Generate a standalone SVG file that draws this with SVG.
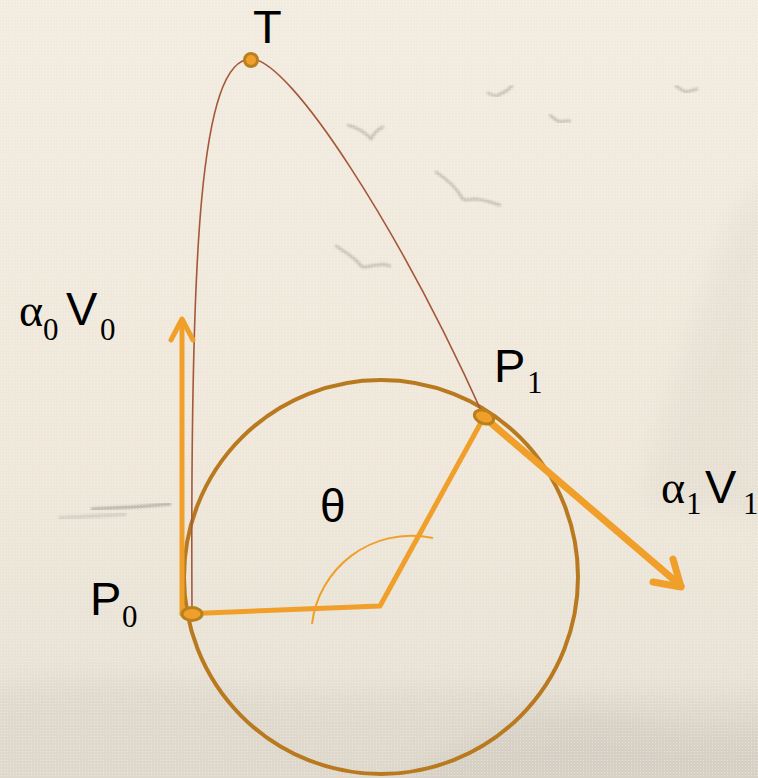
<svg xmlns="http://www.w3.org/2000/svg" width="758" height="778" viewBox="0 0 758 778">
<defs>
<linearGradient id="bg" x1="0" y1="0" x2="0" y2="1">
<stop offset="0" stop-color="#F2EBDF"/>
<stop offset="0.6" stop-color="#EEE7DA"/>
<stop offset="1" stop-color="#E6E0D4"/>
</linearGradient>
<pattern id="dots" width="3" height="3" patternUnits="userSpaceOnUse">
<rect x="1" y="1" width="1" height="1" fill="#FFFFFF" opacity="0.35"/>
</pattern>
<filter id="blur" x="-20%" y="-20%" width="140%" height="140%"><feGaussianBlur stdDeviation="12"/></filter>
<filter id="sblur"><feGaussianBlur stdDeviation="1"/></filter>
<style>
.sans{font-family:"Liberation Sans",Arial,sans-serif;fill:#000}
.serif{font-family:"Liberation Serif","Times New Roman",serif;fill:#000}
.big{font-size:47px}
.sub{font-size:31px}
.alpha{font-size:46px}
.vec{fill:none;stroke:#F0A02A;stroke-linecap:round;stroke-linejoin:round}
.bird{fill:none;stroke:#77736D;stroke-width:2.5;stroke-linecap:round;opacity:0.4;filter:url(#sblur)}
.mark{fill:#F0A02A;stroke:#B8801E;stroke-width:3}
</style>
</defs>
<g id="background">
<rect width="758" height="778" fill="url(#bg)"/>
<path d="M640,500 C660,420 690,330 720,250 C735,210 750,190 770,180 L770,520 Z" fill="#D8D2C6" opacity="0.3" filter="url(#blur)"/>
<path d="M-20,690 C120,660 260,700 380,690 C520,680 640,700 780,690 L780,800 L-20,800 Z" fill="#D6D0C4" opacity="0.45" filter="url(#blur)"/>
<path d="M380,800 C470,720 560,700 640,720 C700,735 740,730 780,725 L780,800 Z" fill="#CFC9BD" opacity="0.5" filter="url(#blur)"/>
<path class="bird" d="M348,125 C358,128 366,133 371,139 C374,133 378,129 383,127"/>
<path class="bird" d="M488,93 C494,96 498,97 500,94 C506,92 510,88 512,86"/>
<path class="bird" d="M550,115 C555,119 557,121 560,122 C563,121 566,121 570,121"/>
<path class="bird" d="M676,86 C680,89 683,91 686,92 C690,91 694,90 697,89"/>
<path class="bird" d="M436,172 C448,180 456,188 461,196 C462,201 466,200 474,199 C483,199 493,203 500,205"/>
<path class="bird" d="M336,246 C345,252 356,258 361,266 C365,269 370,265 378,265 C383,264 387,265 390,266"/>
<path class="bird" d="M92,509 C120,508 150,506 170,504" style="opacity:0.55"/>
<path class="bird" d="M60,518 C85,517 105,515 125,514" style="opacity:0.2;stroke-width:4"/>
<rect width="758" height="778" fill="url(#dots)"/>
</g>
<g id="connectors">
<circle id="circle" cx="381" cy="577" r="197" fill="none" stroke="#B97A1F" stroke-width="4"/>
<path id="curve" d="M192,612 C190,250 200,59 251,59 C290,59 400,230 484,417" fill="none" stroke="#A5573A" stroke-width="1.6"/>
<path id="angle-arc" d="M312,624 C318,570 370,525 433,538" fill="none" stroke="#F0A02A" stroke-width="2"/>
<path id="radii" class="vec" d="M182,614 L380,606 L484,417" stroke-width="5"/>
<g id="vector-a0v0">
<path class="vec" d="M182,614 L182,320" stroke-width="5"/>
<path class="vec" d="M171,340 L182,319 L193,340" stroke-width="5"/>
</g>
<g id="vector-a1v1">
<path class="vec" d="M484,417 L681,586" stroke-width="7"/>
<path class="vec" d="M653,582 L681,587 L673,559" stroke-width="7"/>
</g>
</g>
<g id="node-T">
<circle class="mark" cx="251" cy="60" r="6.5"/>
<text class="sans big" x="253" y="43">T</text>
</g>
<g id="node-P0">
<ellipse class="mark" cx="192" cy="614" rx="10" ry="6.5"/>
<text class="sans big" x="90" y="615">P</text>
<text class="serif sub" x="122" y="627">0</text>
</g>
<g id="node-P1">
<ellipse class="mark" cx="484" cy="417" rx="10" ry="6.5" transform="rotate(20 484 417)"/>
<text class="sans big" x="494" y="382">P</text>
<text class="serif sub" x="527" y="393">1</text>
</g>
<g id="label-theta">
<text class="sans" x="320" y="522" font-size="46">θ</text>
</g>
<g id="label-a0v0">
<text class="serif alpha" x="19" y="326">α</text>
<text class="serif sub" x="43" y="340">0</text>
<text class="sans big" x="66" y="325">V</text>
<text class="serif sub" x="100" y="340">0</text>
</g>
<g id="label-a1v1">
<text class="serif alpha" x="661" y="503">α</text>
<text class="serif sub" x="686" y="514">1</text>
<text class="sans big" x="705" y="503">V</text>
<text class="serif sub" x="743" y="514">1</text>
</g>
</svg>
